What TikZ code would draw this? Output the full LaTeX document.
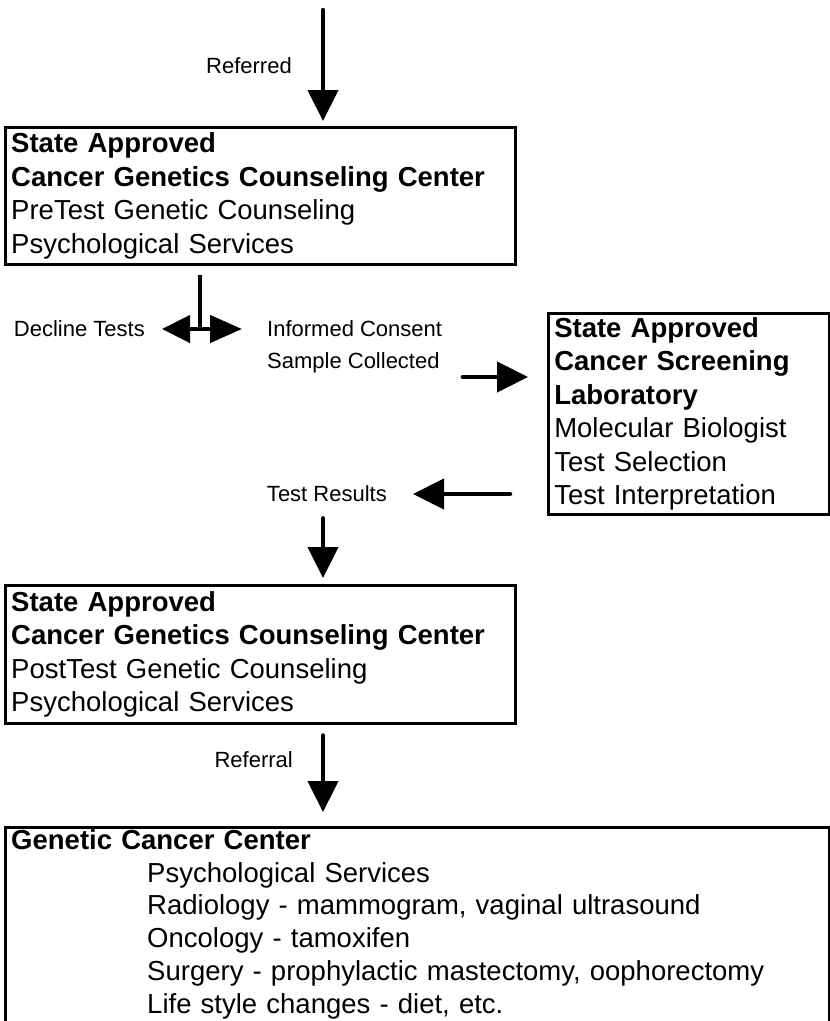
\documentclass[tikz,border=0pt]{standalone}
\usepackage{fontspec}
\setmainfont{Liberation Sans}
\usetikzlibrary{arrows.meta}
\tikzstyle{box} = [rectangle, draw=black, line width=2.5pt, anchor=north west, align=left, inner xsep=6pt, inner ysep=0pt, font=\fontsize{27.5}{33.5}\selectfont]
\tikzstyle{lbl} = [inner sep=0pt, font=\fontsize{22}{26}\selectfont]
\tikzstyle{arr} = [line width=4.5pt, line cap=round, -{Triangle[length=31pt,width=30pt]}]

\begin{document}
\begin{tikzpicture}[x=1pt, y=1pt]
		\useasboundingbox (0,0) rectangle (830,-1021);
		\coordinate (mid) at (323,0);
		\coordinate (top) at (323,-10);
		\coordinate (tee) at (200,-329);

		\node[box, minimum width=510pt, minimum height=137pt, text width=498pt](pre) at (4,-126){\textbf{State Approved}\\\textbf{Cancer Genetics Counseling Center}\\PreTest Genetic Counseling\\Psychological Services};
		\node[box, minimum width=281pt, minimum height=201pt, text width=269pt](lab) at (547,-312){\textbf{State Approved}\\\textbf{Cancer Screening}\\\textbf{Laboratory}\\Molecular Biologist\\Test Selection\\Test Interpretation};
		\node[box, minimum width=510pt, minimum height=138pt, text width=498pt](post) at (4,-584){\textbf{State Approved}\\\textbf{Cancer Genetics Counseling Center}\\PostTest Genetic Counseling\\Psychological Services};
		% box runs off the bottom of the page
		\node[box, font=\fontsize{27.5}{32.8}\selectfont, minimum width=824pt, minimum height=210pt, text width=812pt](gcc) at (4,-826){\textbf{Genetic Cancer Center}\\
			\hspace*{136pt}Psychological Services\\
			\hspace*{136pt}Radiology - mammogram, vaginal ultrasound\\
			\hspace*{136pt}Oncology - tamoxifen\\
			\hspace*{136pt}Surgery - prophylactic mastectomy, oophorectomy\\
			\hspace*{136pt}Life style changes - diet, etc.\rule[-22pt]{0pt}{22pt}};

		\node[lbl, anchor=east](referred) at (292,-66){Referred};
		\node[lbl, anchor=east](decline) at (145,-329){Decline Tests};
		\node[lbl, anchor=west](informed) at (267,-329){Informed Consent};
		\node[lbl, anchor=west](sample) at (267,-363){Sample Collected};
		\node[lbl, anchor=east](results) at (387,-494){Test Results};
		\node[lbl, anchor=east](referral) at (293,-760){Referral};

		\coordinate (a1) at ([yshift=-14pt]sample.east);

		\draw[arr, shorten >=5pt](top)--(pre.north -| mid);
		\draw[line width=4.5pt, shorten <=9pt](pre.south -| tee)--(tee);
		\draw[line width=4.5pt, {Triangle[length=28pt,width=27pt]}-{Triangle[length=32pt,width=27pt]}, shorten <=17pt, shorten >=25pt](decline.east)--(informed.west);
		\draw[arr, shorten <=23pt, shorten >=19pt](a1)--(a1 -| lab.west);
		\draw[arr, shorten <=37pt, shorten >=26pt](lab.west |- results)--(results.east);
		\draw[arr, shorten <=16pt, shorten >=6pt](results.south -| mid)--(post.north -| mid);
		\draw[arr, shorten <=11pt, shorten >=14pt](post.south -| mid)--(gcc.north -| mid);
	\end{tikzpicture}
\end{document}
